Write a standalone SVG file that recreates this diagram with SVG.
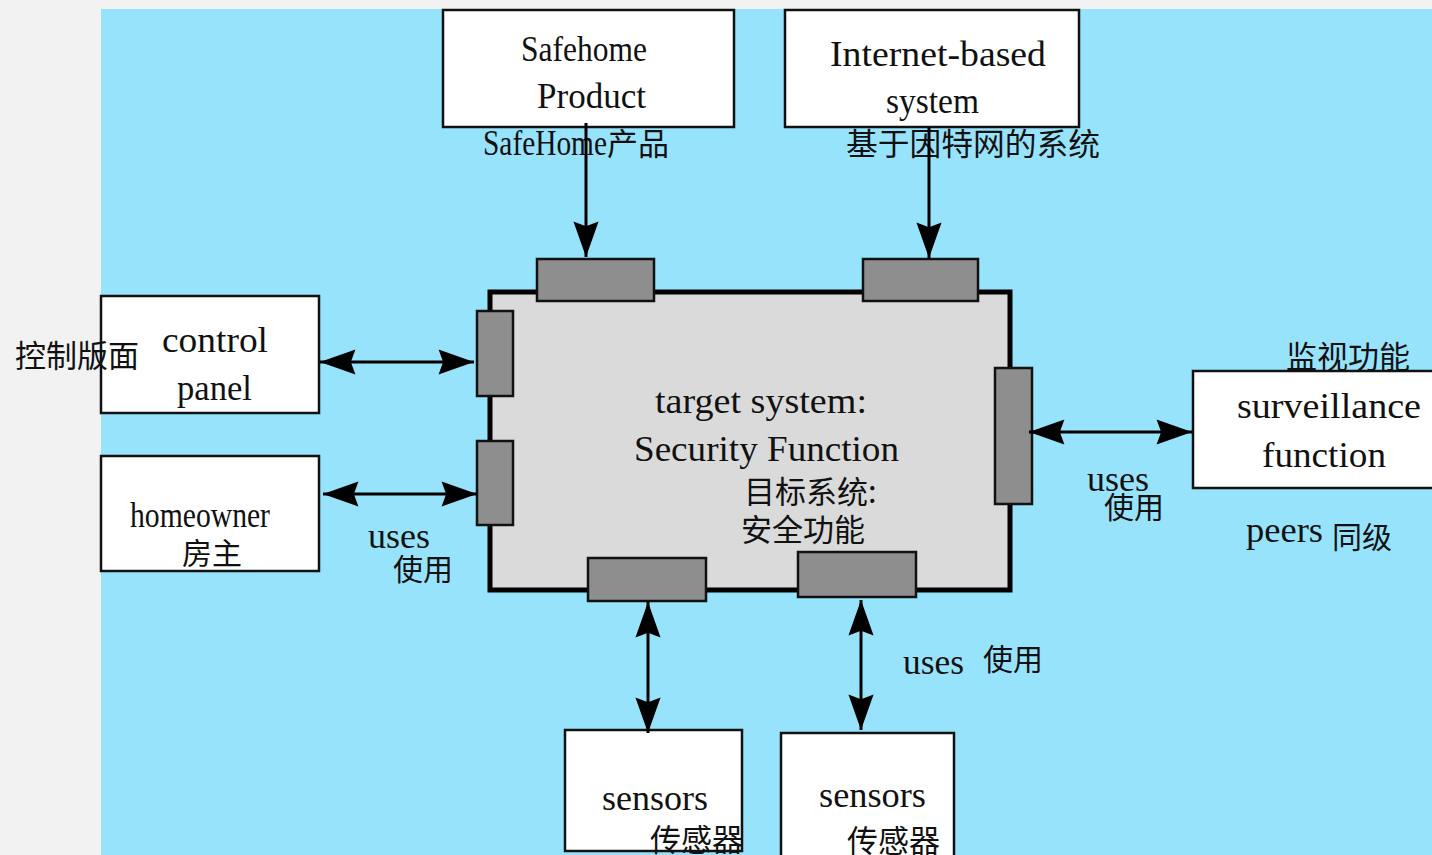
<svg xmlns="http://www.w3.org/2000/svg" width="1432" height="855" viewBox="0 0 1432 855">
<style>
.box{fill:#fff;stroke:#111;stroke-width:2.5}
.port{fill:#8e8e8e;stroke:#111;stroke-width:2.5}
.main{fill:#dadada;stroke:#000;stroke-width:5}
.con{fill:none;stroke:#000;stroke-width:3}
.lat{font-family:"Liberation Serif","Times New Roman",serif;font-size:36px;fill:#111}
.cjk{font-family:"Noto Sans CJK SC","Noto Sans",sans-serif;font-size:31px;fill:#111}
</style>
<defs>
<marker id="ah" markerUnits="userSpaceOnUse" markerWidth="40" markerHeight="30" viewBox="-33 -13 35 26" refX="0" refY="0" orient="auto-start-reverse">
<path d="M0,0 L-31,-11 L-27,0 L-31,11 Z" fill="#000"/>
</marker>
</defs>
<rect x="0" y="0" width="1432" height="855" fill="#f2f2f2"/>
<rect x="101" y="9" width="1331" height="846" fill="#98e3fc"/>

<g id="target-system">
<rect class="main" x="490" y="292" width="520" height="298"/>
<text class="lat" x="655" y="413" textLength="212" lengthAdjust="spacingAndGlyphs">target system:</text>
<text class="lat" x="634" y="461" textLength="265" lengthAdjust="spacingAndGlyphs">Security Function</text>
<text class="cjk" x="744" y="503">目标系统:</text>
<text class="cjk" x="741" y="541">安全功能</text>
<rect class="port" x="537" y="259" width="117" height="42"/>
<rect class="port" x="863" y="259" width="115" height="42"/>
<rect class="port" x="477" y="311" width="36" height="85"/>
<rect class="port" x="477" y="441" width="36" height="84"/>
<rect class="port" x="995" y="368" width="37" height="136"/>
<rect class="port" x="588" y="558" width="118" height="43"/>
<rect class="port" x="798" y="552" width="118" height="45"/>
</g>

<g id="safehome-product">
<rect class="box" x="443" y="10" width="291" height="117"/>
<text class="lat" x="521" y="61" textLength="126" lengthAdjust="spacingAndGlyphs">Safehome</text>
<text class="lat" x="537" y="108" textLength="109" lengthAdjust="spacingAndGlyphs">Product</text>
<text class="lat" x="483" y="155" textLength="124" lengthAdjust="spacingAndGlyphs">SafeHome</text>
<text class="cjk" x="607" y="155">产品</text>
</g>

<g id="internet-system">
<rect class="box" x="785" y="10" width="294" height="117"/>
<text class="lat" x="830" y="66" textLength="216" lengthAdjust="spacingAndGlyphs">Internet-based</text>
<text class="lat" x="886" y="113" textLength="93" lengthAdjust="spacingAndGlyphs">system</text>
<text class="cjk" x="846" y="155" textLength="254" lengthAdjust="spacingAndGlyphs">基于因特网的系统</text>
</g>

<g id="control-panel">
<rect class="box" x="101" y="296" width="218" height="117"/>
<text class="lat" x="162" y="352" textLength="106" lengthAdjust="spacingAndGlyphs">control</text>
<text class="lat" x="177" y="400" textLength="75" lengthAdjust="spacingAndGlyphs">panel</text>
<text class="cjk" x="15" y="367">控制版面</text>
</g>

<g id="homeowner">
<rect class="box" x="101" y="456" width="218" height="115"/>
<text class="lat" x="130" y="527" textLength="140" lengthAdjust="spacingAndGlyphs">homeowner</text>
<text class="cjk" x="182" y="564" style="font-size:30px">房主</text>
</g>

<g id="surveillance-function">
<text class="cjk" x="1286" y="368">监视功能</text>
<rect class="box" x="1193" y="371" width="250" height="117"/>
<text class="lat" x="1237" y="418" textLength="184" lengthAdjust="spacingAndGlyphs">surveillance</text>
<text class="lat" x="1262" y="467" textLength="124" lengthAdjust="spacingAndGlyphs">function</text>
<text class="lat" x="1246" y="542" textLength="77" lengthAdjust="spacingAndGlyphs">peers</text>
<text class="cjk" x="1332" y="548" style="font-size:30px">同级</text>
</g>

<g id="sensors-1">
<rect class="box" x="565" y="730" width="177" height="121"/>
<text class="lat" x="602" y="810" textLength="106" lengthAdjust="spacingAndGlyphs">sensors</text>
<text class="cjk" x="650" y="851">传感器</text>
</g>

<g id="sensors-2">
<rect class="box" x="781" y="733" width="173" height="124"/>
<text class="lat" x="819" y="807" textLength="107" lengthAdjust="spacingAndGlyphs">sensors</text>
<text class="cjk" x="847" y="852">传感器</text>
</g>

<g id="labels">
<text class="lat" x="368" y="548" textLength="62" lengthAdjust="spacingAndGlyphs">uses</text>
<text class="cjk" x="393" y="580" style="font-size:30px">使用</text>
<text class="lat" x="1087" y="491" textLength="62" lengthAdjust="spacingAndGlyphs">uses</text>
<text class="cjk" x="1104" y="518" style="font-size:30px">使用</text>
<text class="lat" x="903" y="674" textLength="61" lengthAdjust="spacingAndGlyphs">uses</text>
<text class="cjk" x="983" y="670" style="font-size:30px">使用</text>
</g>

<g id="connectors">
<path class="con" d="M586,123 V257" marker-end="url(#ah)"/>
<path class="con" d="M929,127 V258" marker-end="url(#ah)"/>
<path class="con" d="M320,362 H474" marker-start="url(#ah)" marker-end="url(#ah)"/>
<path class="con" d="M323,494 H477" marker-start="url(#ah)" marker-end="url(#ah)"/>
<path class="con" d="M1029,432 H1192" marker-start="url(#ah)" marker-end="url(#ah)"/>
<path class="con" d="M648,602 V733" marker-start="url(#ah)" marker-end="url(#ah)"/>
<path class="con" d="M861,600 V730" marker-start="url(#ah)" marker-end="url(#ah)"/>
</g>
</svg>
